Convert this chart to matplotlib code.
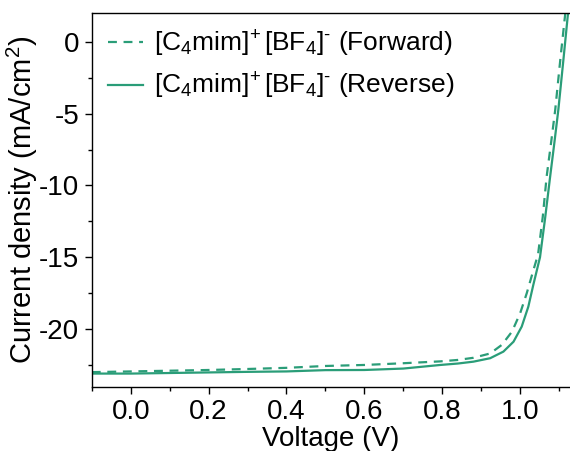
import matplotlib
matplotlib.use("Agg")
from matplotlib import pyplot as plt
from matplotlib.ticker import MultipleLocator, FormatStrFormatter

plt.rcParams['font.family'] = ['Liberation Sans', 'DejaVu Sans']
plt.rcParams['mathtext.fontset'] = 'custom'
plt.rcParams['mathtext.rm'] = 'Liberation Sans'
plt.rcParams['mathtext.it'] = 'Liberation Sans:italic'
plt.rcParams['axes.unicode_minus'] = False

# values
v_fwd = [-0.1, 0.0, 0.1, 0.2, 0.3, 0.4, 0.5, 0.6, 0.7, 0.795, 0.84, 0.88, 0.923, 0.953,
         0.979, 1.0, 1.017, 1.034, 1.046, 1.058, 1.068, 1.080, 1.090, 1.103, 1.114, 1.12]
j_fwd = [-23.0, -22.95, -22.9, -22.85, -22.78, -22.7, -22.57, -22.5, -22.38, -22.25, -22.15,
         -22.0, -21.7, -21.1, -20.18, -18.9, -17.5, -15.9, -14.8, -12.2, -9.39, -6.9, -4.75,
         -1.27, 1.51, 3.0]

v_rev = [-0.1, 0.0, 0.1, 0.2, 0.3, 0.4, 0.5, 0.6, 0.7, 0.795, 0.84, 0.88, 0.923, 0.957,
         0.983, 1.004, 1.021, 1.034, 1.051, 1.064, 1.077, 1.088, 1.098, 1.111, 1.122, 1.128]
j_rev = [-23.1, -23.1, -23.06, -23.02, -22.98, -22.95, -22.86, -22.85, -22.75, -22.5, -22.4,
         -22.27, -22.03, -21.57, -20.88, -19.83, -18.44, -16.9, -15.0, -12.3, -9.39, -7.0,
         -4.75, -1.27, 1.74, 3.2]

labels = [r'[C$_4$mim]$^{\!+}$[BF$_4$]$^{\text{-}}$ (Forward)',
          r'[C$_4$mim]$^{\!+}$[BF$_4$]$^{\text{-}}$ (Reverse)']
color = '#2a9d78'

fig = plt.figure(figsize=(5.70, 4.51), dpi=100)
ax = fig.add_axes([0.161, 0.143, 0.839, 0.828])

ax.plot(v_fwd, j_fwd, ls=(0, (4, 3)), color=color, lw=1.6, label=labels[0])
ax.plot(v_rev, j_rev, ls='-', color=color, lw=1.6, label=labels[1])

ax.set_xlim(-0.1, 1.128)
ax.set_ylim(-24, 2)
ax.xaxis.set_major_locator(MultipleLocator(0.2))
ax.xaxis.set_minor_locator(MultipleLocator(0.1))
ax.yaxis.set_major_locator(MultipleLocator(5))
ax.yaxis.set_minor_locator(MultipleLocator(2.5))
ax.xaxis.set_major_formatter(FormatStrFormatter('%.1f'))
ax.tick_params(which='major', direction='out', length=5, width=1, labelsize=20, pad=4)
ax.tick_params(which='minor', direction='out', length=3, width=1)
ax.spines['right'].set_visible(False)
for s in ['left', 'bottom', 'top']:
    ax.spines[s].set_linewidth(1.0)

ax.set_xlabel('Voltage (V)', fontsize=20, labelpad=1)
ax.set_ylabel('Current density (mA/cm$^2$)', fontsize=21, labelpad=-1)

ax.legend(loc='upper left', frameon=False, fontsize=19, handlelength=1.35,
          handletextpad=0.4, borderaxespad=0.2, labelspacing=0.45, borderpad=0.4)

fig.savefig('out.png', dpi=100)
